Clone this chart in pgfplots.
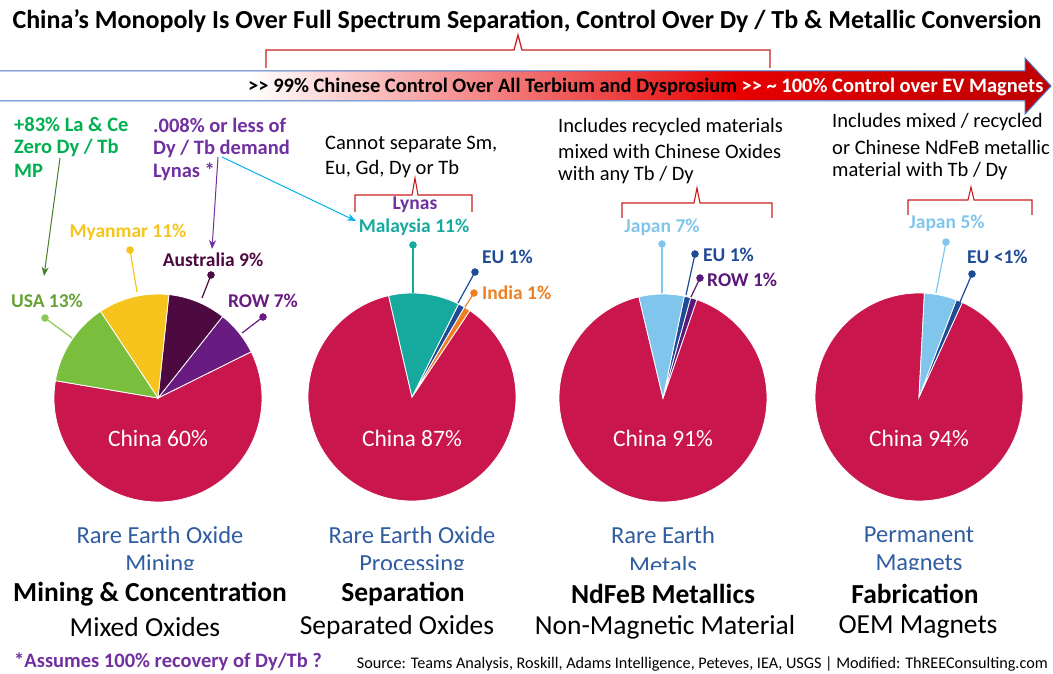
\documentclass[border=0pt]{standalone}
\usepackage{pgfplots}
\pgfplotsset{compat=1.18}
\usepackage{fontspec}
\setmainfont{Carlito}
\usetikzlibrary{arrows.meta}

\definecolor{china}{RGB}{201,22,76}
\definecolor{usa}{RGB}{122,190,62}
\definecolor{mya}{RGB}{246,196,28}
\definecolor{aus}{RGB}{76,10,64}
\definecolor{rowp}{RGB}{104,28,130}
\definecolor{mal}{RGB}{22,170,158}
\definecolor{eu}{RGB}{30,74,150}
\definecolor{ind}{RGB}{238,128,34}
\definecolor{jap}{RGB}{128,198,236}
\definecolor{rowt}{RGB}{90,24,120}
\definecolor{lblue}{RGB}{48,92,160}
\definecolor{annogreen}{RGB}{0,176,80}
\definecolor{annopurple}{RGB}{112,48,160}
\definecolor{arrowgreen}{RGB}{70,125,45}
\definecolor{bracered}{RGB}{200,30,30}
\definecolor{cyanarrow}{RGB}{0,176,240}
\definecolor{arrowblue}{RGB}{68,114,196}
\definecolor{bandred}{RGB}{230,0,0}
\definecolor{darkred}{RGB}{192,0,0}

% pie: centre x, centre y, start angle, list of percent/colour
\newcommand{\pie}[4]{%
  \xdef\cum{#3}%
  \foreach \v/\c in {#4} {%
    \pgfmathsetmacro\e{\cum+\v*3.6}%
    \edef\temp{\noexpand\fill[\c, draw=white, line width=0.8pt] (axis cs:#1,#2) -- ++(\cum:104pt) arc[start angle=\cum, end angle=\e, radius=104pt] -- cycle;}%
    \temp
    \xdef\cum{\e}%
  }%
}

\tikzset{mylab/.style={font=\fontsize{19.5}{22}\selectfont\bfseries, inner sep=0pt},
  myanno/.style={font=\fontsize{20.5}{23}\selectfont\bfseries, anchor=west, inner sep=0pt},
  mynote/.style={font=\fontsize{20.5}{23}\selectfont, anchor=west, inner sep=0pt},
  mystage/.style={font=\fontsize{24.5}{28}\selectfont, text=lblue, inner sep=0pt},
  mycapt/.style={font=\fontsize{27.5}{30}\selectfont\bfseries, inner sep=0pt},
  mysubt/.style={font=\fontsize{27.5}{30}\selectfont, inner sep=0pt}}

\begin{document}
\begin{tikzpicture}
\begin{axis}[width=1053pt,height=674pt,scale only axis,
  xmin=0,xmax=1053,ymin=0,ymax=674,y dir=reverse,
  axis lines=none,ticks=none,clip=false]

% ---- title and brace
\node[font=\fontsize{26}{30}\selectfont\bfseries] at (527,21) {China’s Monopoly Is Over Full Spectrum Separation, Control Over Dy / Tb \& Metallic Conversion};
\draw[bracered, line width=1.3pt] (266,68) -- (266,50) -- (514,50) -- (518,35) -- (522,50) -- (770,50) -- (770,68);

% ---- band arrow
\shade[left color=white, right color=bandred] (250,72) rectangle (740,100);
\shade[left color=bandred, right color=darkred] (740,72) rectangle (1026,100);
\fill[darkred] (1025,58) -- (1051,86) -- (1025,114) -- cycle;
\draw[arrowblue, line width=1pt] (0,71) -- (1025,71) -- (1025,58) -- (1051,86) -- (1025,114) -- (1025,101) -- (0,101);
\node[anchor=west, font=\fontsize{20.5}{23}\selectfont\bfseries, inner sep=0pt] at (248,87) {>{}> 99\% Chinese Control Over All Terbium and Dysprosium \textcolor{white}{>{}> \textasciitilde{} 100\% Control over EV Magnets}};

% ---- pies
\pie{158}{398}{170.4}{60/china, 7/rowp, 9/aus, 11/mya, 13/usa}
\pie{412}{397}{103}{87/china, 1/ind, 1/eu, 11/mal}
\pie{663}{398}{103.4}{91/china, 1/rowt, 1/eu, 7/jap}
\pie{919}{397}{87}{94/china, 1/eu, 5/jap}

\foreach \x/\t in {158/60, 412/87, 663/91, 919/94} {
  \edef\temp{\noexpand\node[font=\noexpand\fontsize{23.5}{26}\noexpand\selectfont, text=white] at (\x,438) {China \t\noexpand\%};}
  \temp
}

% ---- leader lines and dots
\draw[usa!85!white, line width=1.2pt] (45,318) -- (72,338);
\draw[mya, line width=1.2pt] (130,250) -- (137,292);
\draw[aus, line width=1.2pt] (211,275) -- (202,298);
\draw[rowp, line width=1.2pt] (263,317) -- (242,333);
\draw[mal, line width=1.2pt] (413,245) -- (413,293);
\draw[eu, line width=1.2pt] (475,272) -- (458,303);
\draw[ind, line width=1.2pt] (474,293) -- (465,307);
\draw[jap, line width=1.2pt] (662,244) -- (662,293);
\draw[eu, line width=1.2pt] (695,254) -- (686,295);
\draw[rowt, line width=1.2pt] (700,278) -- (691,297);
\draw[jap, line width=1.2pt] (946,242) -- (936,293);
\draw[eu, line width=1.2pt] (972,274) -- (960,302);

\addplot[only marks, mark=*, mark size=3.5pt, usa!85!white] coordinates {(45,318)};
\addplot[only marks, mark=*, mark size=3.5pt, mya] coordinates {(130,250)};
\addplot[only marks, mark=*, mark size=3.5pt, aus] coordinates {(211,275)};
\addplot[only marks, mark=*, mark size=3.5pt, rowp] coordinates {(263,317)};
\addplot[only marks, mark=*, mark size=3.5pt, mal] coordinates {(413,245)};
\addplot[only marks, mark=*, mark size=3.5pt, eu] coordinates {(475,272) (695,254) (972,274)};
\addplot[only marks, mark=*, mark size=3.5pt, ind] coordinates {(474,293)};
\addplot[only marks, mark=*, mark size=3.5pt, jap] coordinates {(662,244) (946,242)};
\addplot[only marks, mark=*, mark size=3.5pt, rowt] coordinates {(700,278)};

% ---- slice labels
\node[mylab, text=usa!85!black] at (47,301) {USA 13\%};
\node[mylab, text=mya] at (128,232) {Myanmar 11\%};
\node[mylab, text=aus] at (213,260) {Australia 9\%};
\node[mylab, text=rowp] at (263,301) {ROW 7\%};
\node[mylab, text=annopurple] at (415,205) {Lynas};
\node[mylab, text=mal] at (414,227) {Malaysia 11\%};
\node[mylab, text=eu, anchor=west] at (482,257) {EU 1\%};
\node[mylab, text=ind, anchor=west] at (482,293) {India 1\%};
\node[mylab, text=jap] at (662,227) {Japan 7\%};
\node[mylab, text=eu, anchor=west] at (703,255) {EU 1\%};
\node[mylab, text=rowt, anchor=west] at (707,280) {ROW 1\%};
\node[mylab, text=jap] at (947,223) {Japan 5\%};
\node[mylab, text=eu, anchor=west] at (967,257) {EU <1\%};

% ---- annotations
\node[myanno, text=annogreen] at (14,125) {+83\% La \& Ce};
\node[myanno, text=annogreen] at (14,148) {Zero Dy / Tb};
\node[myanno, text=annogreen] at (14,171) {MP};
\node[myanno, text=annopurple] at (153,125) {.008\% or less of};
\node[myanno, text=annopurple] at (153,149) {Dy / Tb demand};
\node[myanno, text=annopurple] at (153,172) {Lynas *};
\draw[arrowgreen, line width=1pt, -{Stealth[length=9pt,width=7pt]}] (60,158) -- (44,276);
\draw[annopurple, line width=1pt, -{Stealth[length=9pt,width=7pt]}] (218,157) -- (212,249);
\draw[cyanarrow, line width=1pt, -{Stealth[length=9pt,width=7pt]}] (222,157) -- (356,221);

\node[mynote] at (325,145) {Cannot separate Sm,};
\node[mynote] at (325,169) {Eu, Gd, Dy or Tb};
\node[mynote] at (558,127) {Includes recycled materials};
\node[mynote] at (558,151) {mixed with Chinese Oxides};
\node[mynote] at (558,175) {with any Tb / Dy};
\node[mynote] at (832,122) {Includes mixed / recycled};
\node[mynote] at (832,147) {or Chinese NdFeB metallic};
\node[mynote] at (832,171) {material with Tb / Dy};

\draw[bracered, line width=1.1pt] (355,212) -- (355,195) -- (412,195) -- (415,178) -- (418,195) -- (472,195) -- (472,212);
\draw[bracered, line width=1.1pt] (622,218) -- (622,203) -- (694,203) -- (697,188) -- (700,203) -- (772,203) -- (772,218);
\draw[bracered, line width=1.1pt] (908,215) -- (908,200) -- (968,200) -- (971,187) -- (974,200) -- (1032,200) -- (1032,215);

% ---- blue stage labels
\node[mystage] at (160,535) {Rare Earth Oxide};
\node[mystage] at (160,565) {Mining};
\node[mystage] at (412,535) {Rare Earth Oxide};
\node[mystage] at (412,565) {Processing};
\node[mystage] at (663,535) {Rare Earth};
\node[mystage] at (663,565) {Metals};
\node[mystage] at (919,535) {Permanent};
\node[mystage] at (919,565) {Magnets};
\fill[white] (0,570) rectangle (1053,580);

% ---- bottom captions
\node[mycapt] at (150,594) {Mining \& Concentration};
\node[mycapt] at (403,594) {Separation};
\node[mycapt] at (663,594) {NdFeB Metallics};
\node[mycapt] at (915,594) {Fabrication};
\node[mysubt] at (145,627) {Mixed Oxides};
\node[mysubt] at (397,627) {Separated Oxides};
\node[mysubt] at (665,627) {Non-Magnetic Material};
\node[mysubt] at (918,627) {OEM Magnets};

\node[font=\fontsize{20.5}{23}\selectfont\bfseries, text=annopurple, anchor=west, inner sep=0pt] at (14,662) {*Assumes 100\% recovery of Dy/Tb ?};
\node[font=\fontsize{16.2}{18}\selectfont, anchor=east, inner sep=0pt] at (1048,664) {Source: Teams Analysis, Roskill, Adams Intelligence, Peteves, IEA, USGS | Modified: ThREEConsulting.com};

\end{axis}
\pgfresetboundingbox
\path[use as bounding box] (current axis.south west) rectangle (current axis.north east);
\end{tikzpicture}
\end{document}
